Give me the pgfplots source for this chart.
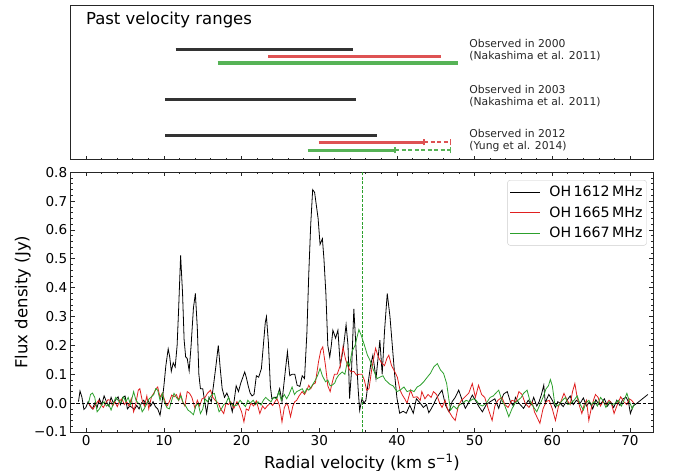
\documentclass[border=0pt]{standalone}
\usepackage{fontspec}
\setmainfont{DejaVu Sans}
\usepackage{pgfplots}
\pgfplotsset{compat=1.18}
\definecolor{tabred}{HTML}{E02020}
\definecolor{tabgreen}{HTML}{2CA02C}
\definecolor{barblack}{HTML}{333333}
\definecolor{barred}{HTML}{DE5253}
\definecolor{bargreen}{HTML}{56B356}
\begin{document}
\begin{tikzpicture}
\useasboundingbox (0,0) rectangle (680bp,471bp);
% ---------------- top panel ----------------
\begin{axis}[at={(70.7bp,311bp)}, anchor=south west, scale only axis,
  width=582.6bp, height=154bp,
  xmin=-2, xmax=73, ymin=0, ymax=154,
  xtick={0,10,20,30,40,50,60,70}, xticklabels={}, minor x tick num=4,
  ytick=\empty, xtick pos=left, tick align=inside,
  major tick length=4bp, minor tick length=2bp,
  every tick/.style={black!85, line width=0.8bp},
  axis line style={line width=1bp, black!85}]
\addplot[barblack, line width=3.2bp, line cap=butt] coordinates {(11.5,110.7) (34.4,110.7)};
\addplot[barred, line width=3.2bp, line cap=butt] coordinates {(23.4,103.7) (45.7,103.7)};
\addplot[bargreen, line width=3.2bp, line cap=butt] coordinates {(16.9,97) (47.8,97)};
\addplot[barblack, line width=3.2bp, line cap=butt] coordinates {(10.2,60.7) (34.7,60.7)};
\addplot[barblack, line width=3.2bp, line cap=butt] coordinates {(10.2,24.7) (37.4,24.7)};
\addplot[barred, line width=3.2bp, line cap=butt] coordinates {(29.9,17.7) (43.5,17.7)};
\addplot[barred, line width=1.6bp, dash pattern=on 4bp off 2.5bp] coordinates {(43.5,17.7) (46.9,17.7)};
\addplot[barred, line width=1.3bp] coordinates {(43.5,14.5) (43.5,20.9)};
\addplot[barred, line width=1.3bp] coordinates {(46.9,14.5) (46.9,20.9)};
\addplot[bargreen, line width=3.2bp, line cap=butt] coordinates {(28.5,9.7) (39.75,9.7)};
\addplot[bargreen, line width=1.6bp, dash pattern=on 4bp off 2.5bp] coordinates {(39.75,9.7) (46.9,9.7)};
\addplot[bargreen, line width=1.3bp] coordinates {(39.75,6.5) (39.75,12.9)};
\addplot[bargreen, line width=1.3bp] coordinates {(46.9,6.5) (46.9,12.9)};
\node[anchor=west, font=\fontsize{16.5bp}{19bp}\selectfont, inner sep=0pt] at (axis description cs:0.026,0.909) {Past velocity ranges};
\begin{scope}[every node/.style={anchor=base west, inner sep=0pt, font=\fontsize{10.8bp}{13bp}\selectfont, black!85}]
\node at (axis description cs:0.684,0.731) {Observed in 2000};
\node at (axis description cs:0.684,0.653) {(Nakashima et al. 2011)};
\node at (axis description cs:0.684,0.432) {Observed in 2003};
\node at (axis description cs:0.684,0.357) {(Nakashima et al. 2011)};
\node at (axis description cs:0.684,0.146) {Observed in 2012};
\node at (axis description cs:0.684,0.068) {(Yung et al. 2014)};
\end{scope}
\end{axis}
% ---------------- bottom panel ----------------
\begin{axis}[at={(70.7bp,39bp)}, anchor=south west, scale only axis,
  width=582.6bp, height=259.7bp,
  xmin=-2, xmax=73, ymin=-0.1, ymax=0.8,
  xtick={0,10,20,30,40,50,60,70}, xticklabels={0,10,20,30,40,50,60,70},
  ytick={-0.1,0,0.1,0.2,0.3,0.4,0.5,0.6,0.7,0.8},
  yticklabels={−0.1,0.0,0.1,0.2,0.3,0.4,0.5,0.6,0.7,0.8},
  minor x tick num=4, minor y tick num=4,
  tick align=inside, major tick length=4bp, minor tick length=2bp,
  every tick/.style={black!85, line width=0.8bp},
  axis line style={line width=1bp, black!85},
  ticklabel style={font=\fontsize{13.6bp}{16bp}\selectfont},
  xlabel={Radial velocity (km s\textsuperscript{−1})},
  ylabel={Flux density (Jy)},
  label style={font=\fontsize{16.5bp}{19bp}\selectfont},
  xlabel style={at={(axis description cs:0.5,-0.07)}, anchor=north},
  ylabel style={at={(axis description cs:-0.082,0.5)}, anchor=center},
  legend style={at={(0.9887,0.970)}, anchor=north east, draw=black!20,
    rounded corners=2.5bp, fill=white,
    font=\fontsize{14.2bp}{17bp}\selectfont, row sep=4.5bp,
    inner xsep=2bp, inner ysep=4bp},
  legend cell align=left,
  legend image code/.code={\draw[#1, line width=0.9bp] (0bp,0bp) -- (30bp,0bp); \path (37bp,0bp);}]
\addplot[black, line width=0.8bp] coordinates {
(-1.0,0.005) (-0.8,0.042) (-0.55,0.02) (-0.3,-0.022) (-0.05,-0.015) (0.25,0.005) (0.5,-0.01) (0.8,-0.02) (1.1,0.0) (1.4,-0.015) (1.7,0.015) (2.0,-0.005) (2.3,0.025) (2.6,0.005) (2.9,-0.01) (3.2,0.02) (3.5,0.0) (3.8,0.012) (4.1,0.022) (4.4,-0.005) (4.7,0.02) (5.0,0.025) (5.3,-0.02) (5.6,-0.01) (5.9,-0.015) (6.2,-0.022) (6.5,-0.008) (6.8,-0.02) (7.1,0.0) (7.4,0.01) (7.7,-0.005) (8.0,0.008) (8.3,-0.01) (8.6,0.005) (8.9,-0.012) (9.2,-0.02) (9.5,-0.042) (9.75,0.0) (10.0,0.06) (10.25,0.13) (10.55,0.188) (10.75,0.16) (10.95,0.11) (11.2,0.14) (11.45,0.125) (11.7,0.2) (11.9,0.33) (12.15,0.512) (12.4,0.38) (12.6,0.22) (12.8,0.16) (13.0,0.155) (13.25,0.112) (13.5,0.2) (13.8,0.33) (14.05,0.38) (14.3,0.26) (14.5,0.1) (14.7,0.05) (15.0,0.05) (15.25,0.005) (15.5,-0.035) (15.8,0.02) (16.1,0.005) (16.4,0.065) (16.7,0.13) (17.0,0.2) (17.25,0.12) (17.5,0.05) (17.8,0.02) (18.1,0.035) (18.4,0.015) (18.8,-0.03) (19.05,0.01) (19.3,0.06) (19.6,0.04) (19.9,0.07) (20.1,0.085) (20.4,0.108) (20.6,0.09) (20.85,0.06) (21.1,0.035) (21.35,0.025) (21.6,0.03) (21.9,0.095) (22.2,0.09) (22.55,0.12) (22.8,0.2) (23.05,0.28) (23.2,0.3) (23.45,0.21) (23.7,0.06) (23.9,0.015) (24.2,0.02) (24.55,0.02) (24.9,0.05) (25.2,0.005) (25.5,0.08) (25.9,0.178) (26.2,0.095) (26.5,0.1) (26.85,0.1) (27.15,0.062) (27.5,0.058) (27.8,0.095) (28.1,0.085) (28.4,0.24) (28.65,0.45) (28.9,0.62) (29.15,0.74) (29.4,0.73) (29.6,0.69) (29.85,0.64) (30.1,0.55) (30.4,0.57) (30.6,0.5) (30.85,0.38) (31.1,0.2) (31.35,0.16) (31.55,0.2) (31.75,0.253) (32.1,0.225) (32.4,0.253) (32.7,0.13) (33.1,0.19) (33.45,0.272) (33.7,0.2) (33.9,0.016) (34.15,0.11) (34.45,0.327) (34.75,0.18) (35.0,0.05) (35.2,-0.025) (35.5,0.016) (35.75,0.0) (36.0,0.01) (36.25,0.062) (36.6,0.13) (36.9,0.166) (37.3,0.085) (37.8,0.218) (38.1,0.1) (38.4,0.25) (38.75,0.38) (39.1,0.3) (39.4,0.2) (39.7,0.1) (40.0,0.017) (40.35,-0.035) (40.8,-0.028) (41.2,-0.035) (41.65,-0.007) (42.1,-0.035) (42.5,0.015) (43.0,0.0) (43.4,-0.015) (43.8,-0.005) (44.1,-0.033) (44.4,-0.02) (44.7,-0.005) (45.05,0.015) (45.4,0.03) (45.8,0.045) (46.25,-0.007) (46.7,-0.03) (47.1,0.005) (47.5,0.02) (47.95,0.045) (48.4,0.01) (48.8,-0.018) (49.2,0.0) (49.7,0.028) (50.1,0.01) (50.5,-0.01) (51.0,-0.03) (51.5,-0.005) (52.0,0.005) (52.6,0.015) (53.1,-0.018) (53.4,0.01) (53.75,0.032) (54.2,0.04) (54.6,0.005) (55.0,-0.01) (55.25,0.02) (55.7,0.0) (56.3,-0.018) (56.9,0.01) (57.3,-0.005) (57.6,0.02) (58.0,-0.01) (58.3,0.005) (58.6,0.03) (58.9,0.062) (59.1,0.0) (59.3,0.015) (59.55,0.03) (60.0,0.01) (60.4,-0.015) (60.7,0.005) (61.0,0.0) (61.4,-0.012) (61.9,0.01) (62.3,0.025) (62.7,-0.005) (63.1,0.01) (63.6,0.0) (64.0,0.018) (64.4,-0.01) (64.8,0.005) (65.2,-0.02) (65.6,0.012) (66.0,-0.005) (66.3,0.0) (66.7,0.015) (67.1,-0.01) (67.5,0.005) (67.9,-0.015) (68.3,0.01) (68.7,-0.008) (69.1,0.015) (69.5,0.02) (69.8,0.005) (70.05,-0.036) (70.4,-0.01) (71.0,0.002) (71.6,0.015) (72.3,0.03)
};
\addlegendentry{OH\,1612\,MHz}
\addplot[tabred, line width=0.8bp] coordinates {
(0.3,0.0) (0.6,-0.012) (0.9,-0.02) (1.2,-0.005) (1.6,0.01) (1.9,-0.005) (2.2,-0.015) (2.5,0.0) (2.8,0.012) (3.1,0.01) (3.4,-0.01) (3.7,0.005) (4.0,-0.012) (4.3,0.008) (4.6,0.015) (4.9,-0.005) (5.2,0.005) (5.5,-0.01) (5.8,0.016) (6.1,-0.03) (6.4,0.0) (6.7,0.045) (6.9,0.05) (7.2,0.01) (7.5,-0.01) (7.8,0.025) (8.05,-0.02) (8.4,0.022) (8.7,0.035) (9.0,0.05) (9.2,0.056) (9.5,0.02) (9.8,0.035) (10.1,0.01) (10.4,-0.01) (10.7,0.005) (11.0,0.028) (11.3,0.022) (11.6,0.03) (11.9,0.01) (12.1,0.034) (12.4,0.005) (12.7,-0.01) (13.0,0.04) (13.3,0.034) (13.6,0.02) (14.0,-0.018) (14.3,0.01) (14.6,-0.01) (14.9,0.015) (15.3,0.02) (15.6,0.034) (16.0,0.045) (16.3,0.02) (16.6,0.01) (17.0,0.0) (17.3,-0.02) (17.7,-0.036) (18.0,0.0) (18.3,-0.005) (18.6,0.005) (19.0,-0.018) (19.4,0.005) (19.7,-0.01) (20.0,-0.03) (20.3,-0.065) (20.6,-0.02) (20.9,-0.025) (21.2,0.0) (21.55,-0.01) (21.9,0.008) (22.35,-0.036) (22.7,-0.01) (23.0,-0.02) (23.3,-0.01) (23.7,0.0) (24.0,-0.008) (24.3,0.005) (24.55,0.016) (24.9,-0.01) (25.2,-0.065) (25.5,-0.015) (25.8,0.0) (26.0,-0.01) (26.3,-0.047) (26.6,-0.01) (26.85,0.005) (27.1,0.01) (27.4,0.025) (27.8,0.04) (28.1,0.03) (28.4,0.045) (28.65,0.062) (28.9,0.05) (29.2,0.065) (29.5,0.07) (29.9,0.143) (30.2,0.183) (30.45,0.195) (30.8,0.13) (31.1,0.06) (31.4,0.04) (31.7,0.075) (31.95,0.1) (32.3,0.1) (32.7,0.13) (33.05,0.195) (33.4,0.15) (33.8,0.12) (34.1,0.108) (34.45,0.11) (34.8,0.097) (35.1,0.1) (35.5,0.1) (35.8,0.08) (36.1,0.045) (36.4,0.05) (36.8,0.126) (37.25,0.19) (37.6,0.16) (38.0,0.14) (38.4,0.13) (38.7,0.155) (38.95,0.166) (39.3,0.13) (39.7,0.11) (40.05,0.09) (40.4,0.045) (40.7,0.028) (41.0,0.015) (41.3,0.0) (41.75,0.045) (42.1,0.02) (42.6,0.022) (43.0,0.01) (43.2,0.04) (43.6,0.015) (44.0,0.03) (44.4,0.02) (44.7,0.04) (45.1,0.03) (45.5,0.0) (45.8,-0.015) (46.2,0.01) (46.5,-0.02) (47.1,-0.047) (47.5,-0.06) (47.9,-0.01) (48.3,0.01) (48.7,0.02) (49.25,0.035) (49.7,0.068) (50.1,0.02) (50.5,0.062) (50.9,0.03) (51.3,0.02) (51.8,-0.024) (52.25,-0.06) (52.6,-0.01) (53.0,0.01) (53.5,0.02) (53.9,-0.005) (54.3,-0.015) (54.8,0.01) (55.3,0.005) (55.7,0.04) (56.1,0.03) (56.5,0.0) (57.0,-0.015) (57.4,0.005) (57.7,-0.03) (58.0,-0.047) (58.4,-0.07) (58.8,-0.02) (59.2,0.005) (59.6,0.01) (60.0,-0.02) (60.4,-0.06) (60.8,-0.01) (61.1,0.005) (61.5,0.034) (61.9,0.01) (62.3,-0.005) (62.6,0.04) (62.9,0.068) (63.2,0.02) (63.5,-0.01) (63.8,-0.036) (64.1,-0.005) (64.4,0.01) (64.7,-0.06) (65.0,-0.02) (65.3,0.01) (65.55,0.03) (65.9,0.02) (66.2,-0.01) (66.5,0.005) (66.9,-0.005) (67.3,0.01) (67.6,0.0) (67.95,-0.036) (68.3,-0.01) (68.8,0.022) (69.2,0.005) (69.6,-0.005) (69.9,0.015) (70.2,0.01) (70.5,0.0)
};
\addlegendentry{OH\,1665\,MHz}
\addplot[tabgreen, line width=0.8bp] coordinates {
(0.3,0.0) (0.55,0.03) (0.8,0.035) (1.1,0.02) (1.4,-0.03) (1.7,-0.02) (2.0,-0.005) (2.3,0.005) (2.6,-0.01) (2.9,-0.005) (3.2,-0.024) (3.5,0.0) (3.8,0.02) (4.1,0.01) (4.4,0.0) (4.8,0.022) (5.1,0.005) (5.4,0.02) (5.7,-0.005) (6.1,0.04) (6.4,0.01) (6.7,0.0) (7.0,-0.01) (7.2,-0.03) (7.5,-0.018) (7.8,0.0) (8.1,0.015) (8.4,0.022) (8.7,0.03) (8.95,0.05) (9.2,0.045) (9.5,0.01) (9.8,0.034) (10.1,0.0) (10.4,-0.016) (10.7,-0.02) (11.0,0.01) (11.3,0.034) (11.6,0.02) (11.9,0.01) (12.2,0.025) (12.5,0.0) (12.8,-0.01) (13.1,-0.024) (13.4,-0.03) (13.8,-0.04) (14.1,-0.01) (14.4,0.0) (14.7,-0.036) (15.0,-0.02) (15.3,0.015) (15.6,0.005) (15.9,0.02) (16.2,0.03) (16.5,0.034) (16.8,0.0) (17.1,-0.03) (17.4,-0.02) (17.7,-0.005) (18.0,0.0) (18.3,0.02) (18.6,0.0) (19.0,-0.01) (19.4,-0.007) (19.8,0.01) (20.1,0.0) (20.5,-0.012) (20.8,0.01) (21.1,0.0) (21.5,0.01) (21.8,-0.005) (22.1,0.005) (22.5,-0.007) (22.8,0.01) (23.1,0.02) (23.5,0.01) (23.8,0.005) (24.1,0.02) (24.5,0.015) (24.8,0.04) (25.1,0.01) (25.5,0.03) (25.8,0.015) (26.1,0.03) (26.5,0.056) (26.8,0.03) (27.1,0.04) (27.4,0.044) (27.8,0.05) (28.1,0.035) (28.4,0.05) (28.65,0.045) (29.1,0.062) (29.5,0.08) (29.8,0.097) (30.1,0.12) (30.4,0.095) (30.8,0.074) (31.1,0.08) (31.4,0.06) (31.65,0.062) (32.0,0.07) (32.2,0.085) (32.5,0.097) (32.95,0.108) (33.3,0.1) (33.6,0.143) (33.9,0.13) (34.2,0.178) (34.6,0.2) (35.1,0.255) (35.4,0.235) (35.75,0.206) (36.2,0.166) (36.5,0.15) (36.9,0.12) (37.2,0.1) (37.45,0.085) (37.8,0.09) (38.2,0.095) (38.5,0.08) (38.75,0.074) (39.1,0.065) (39.5,0.06) (40.0,0.04) (40.4,0.045) (40.9,0.056) (41.3,0.04) (41.8,0.045) (42.2,0.04) (42.6,0.056) (43.0,0.062) (43.45,0.074) (43.9,0.09) (44.3,0.103) (44.75,0.126) (45.2,0.137) (45.6,0.115) (46.0,0.103) (46.4,0.068) (46.7,0.01) (46.9,-0.024) (47.3,-0.01) (47.7,-0.02) (48.1,-0.005) (48.5,0.0) (48.9,0.01) (49.3,0.005) (49.8,0.015) (50.2,0.01) (50.6,-0.005) (51.0,-0.01) (51.5,0.0) (52.0,0.02) (52.4,0.025) (52.7,0.034) (53.1,0.045) (53.5,0.01) (53.9,-0.01) (54.4,-0.047) (54.8,-0.02) (55.2,0.0) (55.6,0.01) (56.0,0.02) (56.3,0.034) (56.75,0.045) (57.1,0.01) (57.5,-0.01) (58.0,-0.03) (58.4,-0.005) (58.8,0.02) (59.2,0.05) (59.5,0.06) (59.75,0.082) (60.0,0.06) (60.3,0.0) (60.6,-0.01) (60.9,-0.005) (61.3,0.01) (61.7,0.02) (62.0,-0.005) (62.4,0.0) (62.8,0.01) (63.2,0.025) (63.6,-0.005) (64.0,-0.024) (64.3,0.0) (64.7,0.01) (65.0,-0.005) (65.4,0.005) (65.8,-0.01) (66.2,0.02) (66.5,0.01) (66.9,-0.015) (67.3,0.005) (67.7,-0.005) (68.1,0.0) (68.5,0.01) (68.9,-0.01) (69.3,0.015) (69.6,0.034) (70.0,0.0) (70.3,-0.02) (70.6,0.0)
};
\addlegendentry{OH\,1667\,MHz}
\addplot[black, line width=0.8bp, dash pattern=on 3.5bp off 2bp, forget plot] coordinates {(-2,0) (73,0)};
\addplot[tabgreen, line width=0.9bp, dash pattern=on 3bp off 1.5bp, forget plot] coordinates {(35.5,-0.1) (35.5,0.8)};
\end{axis}
\end{tikzpicture}
\end{document}
